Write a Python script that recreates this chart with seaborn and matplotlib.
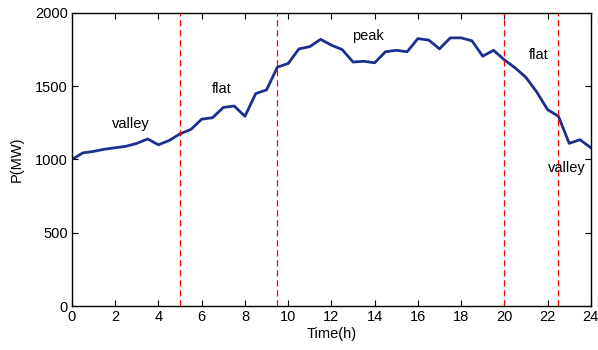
import numpy as np
import pandas as pd
import seaborn as sns
import matplotlib.pyplot as plt

# half-hourly load
hours = [i * 0.5 for i in range(49)]
load = [1000, 1045, 1055, 1070, 1080, 1090, 1110, 1140, 1100, 1130,
        1175, 1205, 1275, 1285, 1355, 1365, 1295, 1450, 1475, 1630,
        1655, 1755, 1770, 1820, 1780, 1750, 1665, 1670, 1660, 1735,
        1745, 1735, 1825, 1815, 1755, 1830, 1830, 1810, 1705, 1745,
        1680, 1625, 1560, 1460, 1340, 1295, 1110, 1135, 1080]
splits = [5, 9.5, 20, 22.5]
labels = ["valley", "flat", "peak", "flat", "valley"]
label_x = [2.73, 6.94, 13.7, 21.57, 22.9]
label_y = [1244, 1478, 1842, 1711, 941]

df = pd.DataFrame({"Time(h)": hours, "P(MW)": load})

sns.set_theme(style="ticks")
plt.rcParams["font.family"] = ["Liberation Sans", "DejaVu Sans"]
plt.rcParams["xtick.direction"] = "in"
plt.rcParams["ytick.direction"] = "in"
plt.rcParams["text.color"] = "black"
plt.rcParams["axes.labelcolor"] = "black"
plt.rcParams["xtick.color"] = "black"
plt.rcParams["ytick.color"] = "black"

fig = plt.figure(figsize=(5.98, 3.5), dpi=100)
ax = fig.add_axes([0.1204, 0.1257, 0.8676, 0.8373])
sns.lineplot(data=df, x="Time(h)", y="P(MW)", color="#1c2f8f", linewidth=2, ax=ax)
for s in splits:
    ax.axvline(s, color="red", linestyle=(0, (5, 3)), linewidth=0.9)
for t, x, y in zip(labels, label_x, label_y):
    ax.text(x, y, t, ha="center", va="center", fontsize=10.5)

ax.set_xlim(0, 24)
ax.set_ylim(0, 2000)
ax.set_xticks(range(0, 25, 2))
ax.set_yticks(range(0, 2001, 500))
ax.tick_params(labelsize=10.5, top=True, right=True, length=4, width=0.8, pad=3)
for sp in ax.spines.values():
    sp.set_visible(True)
    sp.set_linewidth(1)
    sp.set_color("black")
ax.set_xlabel("Time(h)", fontsize=10.5, labelpad=2)
ax.set_ylabel("P(MW)", fontsize=10.5, labelpad=8)

fig.savefig("out.png", dpi=100)
